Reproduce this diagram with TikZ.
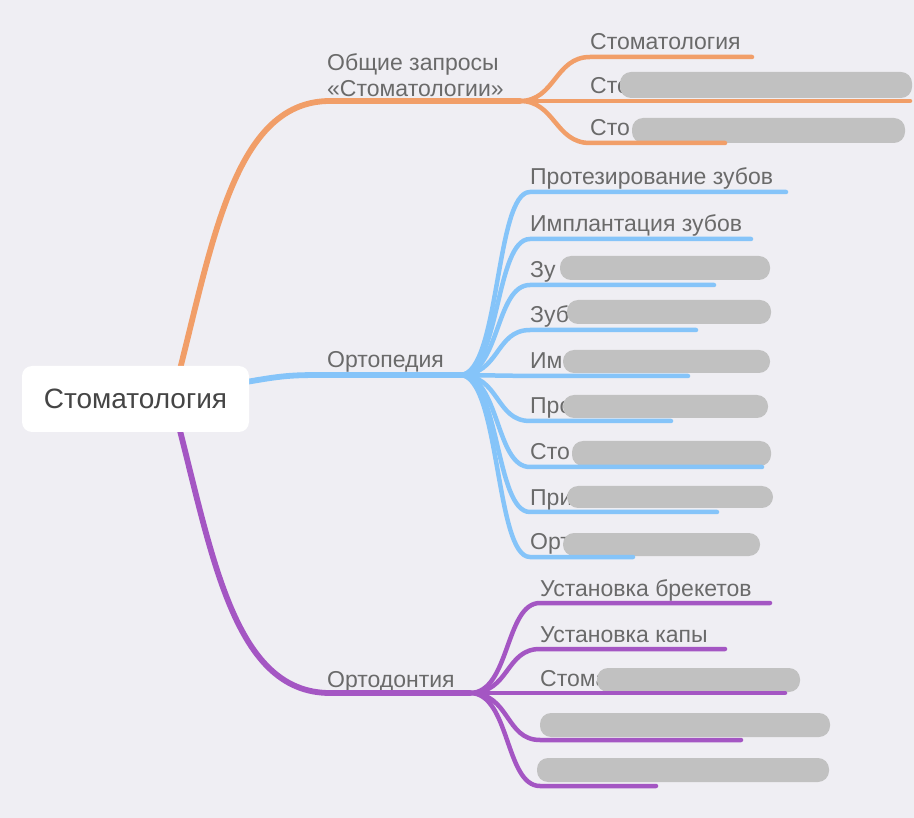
\documentclass[tikz,border=0pt]{standalone}
\usepackage{fontspec}
\setmainfont{Liberation Sans}
\usepackage{xcolor}
\usetikzlibrary{positioning}
\definecolor{bgcol}{HTML}{EFEEF3}
\definecolor{orangebr}{HTML}{F19E68}
\definecolor{bluebr}{HTML}{85C4F9}
\definecolor{purplebr}{HTML}{A456C3}
\definecolor{labelgray}{HTML}{6A6A6A}
\definecolor{rootgray}{HTML}{454545}
\definecolor{hidegray}{HTML}{C1C1C1}

\begin{document}
\begin{tikzpicture}[x=1pt, y=-1pt,
		mainbr/.style={line width=5.8pt, line cap=round},
		subbr/.style={line width=4.5pt, line cap=round},
		lbl/.style={anchor=base west, inner sep=0pt, text=labelgray, font=\fontsize{23}{26}\selectfont},
		hidebar/.style={fill=hidegray, rounded corners=11pt}]
	\fill[bgcol] (0,0) rectangle (914,818);
	% hubs
	\coordinate (rc) at (172,400);
	\coordinate (rb) at (235,384);
	\coordinate (a0) at (330,101);
	\coordinate (ah) at (520,101);
	\coordinate (b0) at (330,375);
	\coordinate (bh) at (460,375);
	\coordinate (c0) at (330,693);
	\coordinate (ch) at (470,693);
	% orange leaves
	\coordinate (a1) at (590,57);  \coordinate (a1e) at (752,57);
	\coordinate (a2) at (590,101); \coordinate (a2e) at (910,101);
	\coordinate (a3) at (590,143); \coordinate (a3e) at (725,143);
	% blue leaves
	\coordinate (b1) at (530,192); \coordinate (b1e) at (786,192);
	\coordinate (b2) at (530,239); \coordinate (b2e) at (751,239);
	\coordinate (b3) at (530,285); \coordinate (b3e) at (714,285);
	\coordinate (b4) at (530,330); \coordinate (b4e) at (696,330);
	\coordinate (b5) at (530,376); \coordinate (b5e) at (688,376);
	\coordinate (b6) at (530,421); \coordinate (b6e) at (671,421);
	\coordinate (b7) at (530,467); \coordinate (b7e) at (762,467);
	\coordinate (b8) at (530,512); \coordinate (b8e) at (717,512);
	\coordinate (b9) at (530,557); \coordinate (b9e) at (633,557);
	% purple leaves
	\coordinate (c1) at (540,603); \coordinate (c1e) at (770,603);
	\coordinate (c2) at (540,649); \coordinate (c2e) at (725,649);
	\coordinate (c3) at (540,693); \coordinate (c3e) at (785,693);
	\coordinate (c4) at (540,740); \coordinate (c4e) at (741,740);
	\coordinate (c5) at (540,786); \coordinate (c5e) at (656,786);

	% labels
	\node[lbl, anchor=south west, align=left] (ta0) at (327,97) {Общие запросы\\«Стоматологии»};
	\node[lbl] (tb0) at (327,368) {Ортопедия};
	\node[lbl] (tc0) at (327,687) {Ортодонтия};
	\node[lbl] (ta1) at ([yshift=7pt]a1) {Стоматология};
	\node[lbl] (ta2) at ([yshift=7pt]a2) {Сто};
	\node[lbl] (ta3) at ([yshift=7pt]a3) {Сто};
	\node[lbl] (tb1) at ([yshift=7pt]b1) {Протезирование зубов};
	\node[lbl] (tb2) at ([yshift=7pt]b2) {Имплантация зубов};
	\node[lbl] (tb3) at ([yshift=7pt]b3) {Зу};
	\node[lbl] (tb4) at ([yshift=7pt]b4) {Зуб};
	\node[lbl] (tb5) at ([yshift=7pt]b5) {Им};
	\node[lbl] (tb6) at ([yshift=7pt]b6) {Про};
	\node[lbl] (tb7) at ([yshift=7pt]b7) {Сто};
	\node[lbl] (tb8) at ([yshift=7pt]b8) {При};
	\node[lbl] (tb9) at ([yshift=7pt]b9) {Орт};
	\node[lbl] (tc1) at ([yshift=7pt]c1) {Установка брекетов};
	\node[lbl] (tc2) at ([yshift=7pt]c2) {Установка капы};
	\node[lbl] (tc3) at ([yshift=7pt]c3) {Стома};

	% hidden parts
	\fill[hidebar] (620,72) rectangle (912,98);
	\fill[hidebar] (632,118) rectangle (905,143);
	\fill[hidebar] (560,256) rectangle (770,280);
	\fill[hidebar] (567,300) rectangle (771,324);
	\fill[hidebar] (563,350) rectangle (770,373);
	\fill[hidebar] (563,395) rectangle (768,418);
	\fill[hidebar] (572,441) rectangle (771,466);
	\fill[hidebar] (567,486) rectangle (773,508);
	\fill[hidebar] (563,533) rectangle (760,556);
	\fill[hidebar] (597,668) rectangle (800,692);
	\fill[hidebar] (540,713) rectangle (830,737);
	\fill[hidebar] (537,758) rectangle (829,782);

	% main branches
	\draw[mainbr, orangebr] (rc) .. controls +(39,-145) and +(-100,0) .. (a0) -- (ah);
	\draw[mainbr, bluebr] (rb) .. controls +(50,-9) and +(-40,0) .. (b0) -- (bh);
	\draw[mainbr, purplebr] (rc) .. controls +(39,145) and +(-100,0) .. (c0) -- (ch);

	% sub branches
	\draw[subbr, orangebr] (ah) .. controls +(35,0) and +(-35,0) .. (a1) -- (a1e);
	\draw[subbr, orangebr] (ah) -- (a2) -- (a2e);
	\draw[subbr, orangebr] (ah) .. controls +(35,0) and +(-35,0) .. (a3) -- (a3e);

	\draw[subbr, bluebr] (bh) .. controls +(40,0) and +(-35,0) .. (b1) -- (b1e);
	\draw[subbr, bluebr] (bh) .. controls +(40,0) and +(-35,0) .. (b2) -- (b2e);
	\draw[subbr, bluebr] (bh) .. controls +(40,0) and +(-35,0) .. (b3) -- (b3e);
	\draw[subbr, bluebr] (bh) .. controls +(40,0) and +(-35,0) .. (b4) -- (b4e);
	\draw[subbr, bluebr] (bh) -- (b5) -- (b5e);
	\draw[subbr, bluebr] (bh) .. controls +(40,0) and +(-35,0) .. (b6) -- (b6e);
	\draw[subbr, bluebr] (bh) .. controls +(40,0) and +(-35,0) .. (b7) -- (b7e);
	\draw[subbr, bluebr] (bh) .. controls +(40,0) and +(-35,0) .. (b8) -- (b8e);
	\draw[subbr, bluebr] (bh) .. controls +(40,0) and +(-35,0) .. (b9) -- (b9e);

	\draw[subbr, purplebr] (ch) .. controls +(40,0) and +(-35,0) .. (c1) -- (c1e);
	\draw[subbr, purplebr] (ch) .. controls +(40,0) and +(-35,0) .. (c2) -- (c2e);
	\draw[subbr, purplebr] (ch) -- (c3) -- (c3e);
	\draw[subbr, purplebr] (ch) .. controls +(40,0) and +(-35,0) .. (c4) -- (c4e);
	\draw[subbr, purplebr] (ch) .. controls +(40,0) and +(-35,0) .. (c5) -- (c5e);

	% root
	\node[fill=white, rounded corners=10pt, minimum width=227pt, minimum height=66pt,
		inner sep=0pt, text=rootgray, font=\fontsize{28}{32}\selectfont] (root) at (135.5,399) {Стоматология};
\end{tikzpicture}
\end{document}
